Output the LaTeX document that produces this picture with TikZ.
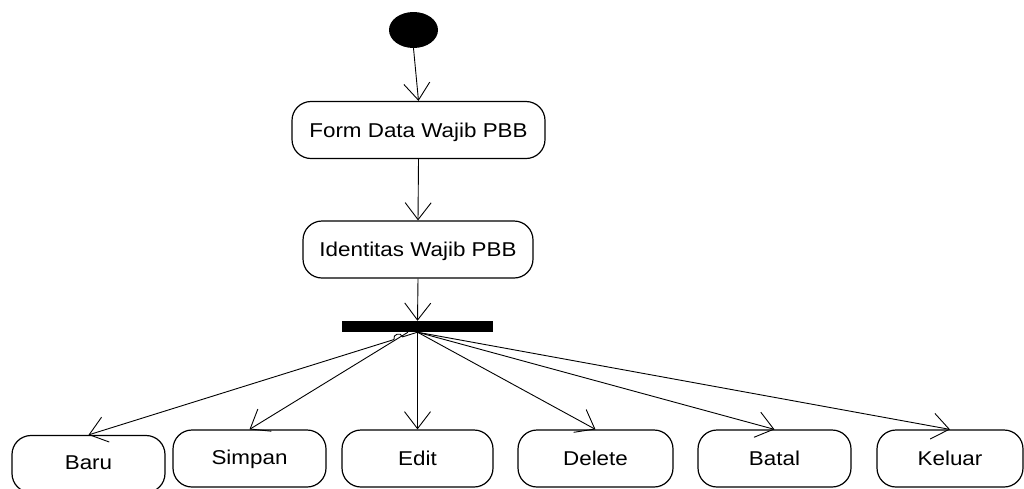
\documentclass[tikz,border=0pt]{standalone}
\usepackage{fontspec}
\setmainfont{Liberation Sans}[FakeStretch=1.12]
\usetikzlibrary{arrows.meta,shapes.geometric,calc}

\tikzset{
  act/.style={draw=black, line width=1.2pt, rounded corners=19pt,
    minimum height=57pt, inner sep=0pt, text height=14.3pt, text depth=0pt,
    font=\fontsize{20pt}{24pt}\selectfont},
  flow/.style={draw=black, line width=0.9pt,
    -{Straight Barb[length=17pt,width=26pt,line width=0.9pt]}},
  startdot/.style={ellipse, fill=black, minimum width=49pt, minimum height=36pt, inner sep=0pt},
  forkbar/.style={fill=black, minimum width=151pt, minimum height=11pt, inner sep=0pt}
}

\begin{document}
\begin{tikzpicture}[x=1pt,y=-1pt]
  \useasboundingbox (0,0) rectangle (1024,488);

  % start state, actions and fork bar
  \node[startdot] (start) at (413.5,30) {};
  \node[act, minimum width=253pt] (form) at (418.5,130) {Form Data Wajib PBB};
  \node[act, minimum width=230pt] (ident) at (418,249.5) {Identitas Wajib PBB};
  \node[forkbar] (bar) at (417.5,326.5) {};

  % actions after the fork
  \node[act, minimum width=153pt, text depth=4pt] (baru) at (88.5,464) {Baru};
  \node[act, minimum width=153pt, text depth=3pt] (simpan) at (249.5,458.5) {Simpan};
  \node[act, minimum width=151pt] (edit) at (417.5,458.5) {Edit};
  \node[act, minimum width=155pt] (delete) at (595.5,458.5) {Delete};
  \node[act, minimum width=153pt] (batal) at (774.5,458.5) {Batal};
  \node[act, minimum width=146pt] (keluar) at (950,458.5) {Keluar};

  \coordinate (fk) at ($(bar.south)+(-9.5,0)$);

  % main flow
  \draw[flow] (start.south) -- (form.north);
  \draw[flow] (form.south) -- (ident.north);
  \draw[flow] (ident.south) -- (bar.north);

  % fork outputs (the Baru line hops over the Simpan line)
  \draw[flow] (bar.south) -- ($(bar.south)!0.0455!(baru.north)$)
     to[bend right=90, looseness=1.6] ($(bar.south)!0.0715!(baru.north)$)
     -- (baru.north);
  \draw[flow] (fk) -- (simpan.north);
  \draw[flow] (bar.south) -- (edit.north);
  \draw[flow] (bar.south) -- (delete.north);
  \draw[flow] (bar.south) -- (batal.north);
  \draw[flow] (bar.south) -- (keluar.north);
\end{tikzpicture}
\end{document}
